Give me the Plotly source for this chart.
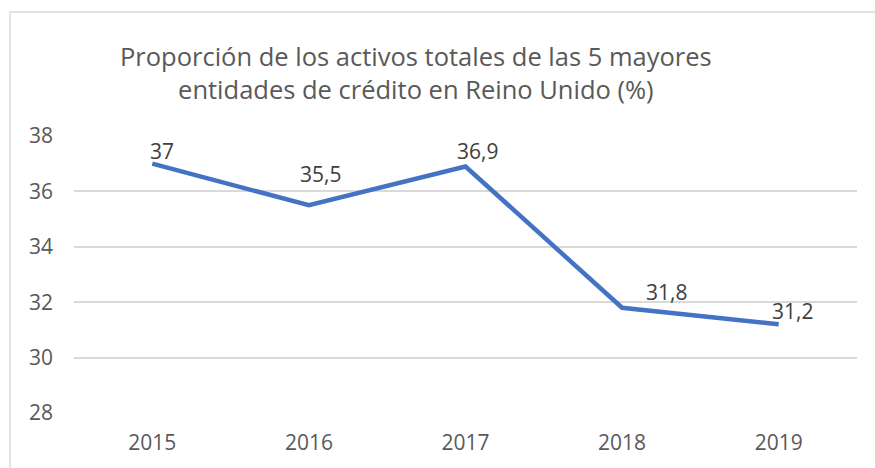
import plotly.graph_objects as go

years = ["2015", "2016", "2017", "2018", "2019"]
values = [37.0, 35.5, 36.9, 31.8, 31.2]
value_labels = ["37", "35,5", "36,9", "31,8", "31,2"]
y_ticks = [28, 30, 32, 34, 36, 38]
title_text = "Proporción de los activos totales de las 5 mayores<br>entidades de crédito en Reino Unido (%)"

W, H = 875, 468
FONT = "Open Sans"

# label offsets in pixels (style)
label_dx = [10, 12, 12, 44, 14]
label_dy = [13, 31, 15, 16, 13]

fig = go.Figure()
fig.add_trace(go.Scatter(
    x=years, y=values, mode="lines",
    line=dict(color="#4472C4", width=4.5),
    hoverinfo="skip", showlegend=False,
))

for i, (yv, t, dx, dy) in enumerate(zip(values, value_labels, label_dx, label_dy)):
    fig.add_annotation(x=i, y=yv, xref="x", yref="y", text=t, showarrow=False,
                       xshift=dx, yshift=dy, xanchor="center", yanchor="middle",
                       font=dict(family=FONT, size=21, color="#404040"))

fig.add_annotation(x=416 / W, y=1 - 72 / H, xref="paper", yref="paper",
                   text=title_text, showarrow=False, xanchor="center", yanchor="middle",
                   font=dict(family=FONT, size=25.5, color="#595959"))

fig.add_shape(type="rect", xref="paper", yref="paper",
              x0=10 / W, x1=1.05, y0=-0.05, y1=1 - 12 / H,
              line=dict(color="#D9D9D9", width=1.5), fillcolor="rgba(0,0,0,0)")

fig.update_layout(
    template="none",
    width=W, height=H,
    margin=dict(l=0, r=0, t=0, b=0, autoexpand=False),
    paper_bgcolor="white", plot_bgcolor="white",
    xaxis=dict(domain=[74 / W, 857 / W], type="category", range=[-0.5, 4.5],
               automargin=False,
               showgrid=False, zeroline=False, showline=False,
               tickfont=dict(family=FONT, size=21, color="#595959"),
               ticks="", ticklabelstandoff=15),
    yaxis=dict(domain=[1 - 413 / H, 1 - 136 / H], range=[28, 38],
               automargin=False,
               tickvals=y_ticks, ticktext=[str(v) for v in y_ticks],
               showgrid=True, gridcolor="#D9D9D9", gridwidth=1.5,
               zeroline=False, showline=False,
               tickfont=dict(family=FONT, size=21, color="#595959"),
               ticks="", ticklabelstandoff=20),
)

fig.write_html("out.html", config={"displayModeBar": False},
               post_script="document.body.style.margin='0';")
